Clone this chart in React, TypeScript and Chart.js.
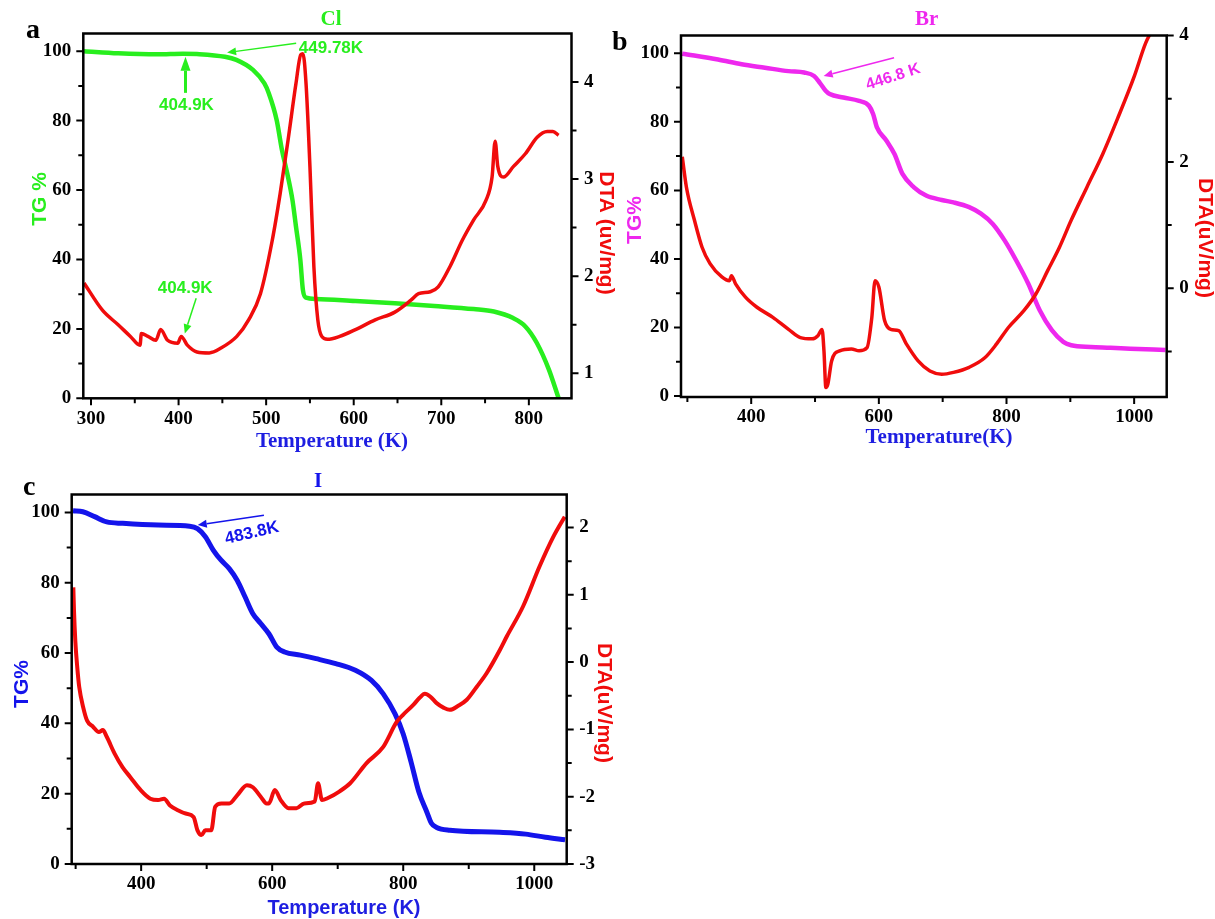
import React, { useEffect, useRef } from 'react';
import { Chart, registerables } from 'chart.js';

Chart.register(...registerables);

const SERIF = '"Liberation Serif", "Times New Roman", serif';
const SANS = '"Liberation Sans", Arial, sans-serif';

const GREEN = 'rgb(40,238,30)';
const MAGENTA = 'rgb(238,40,238)';
const BLUE = 'rgb(20,20,235)';
const RED = 'rgb(240,12,12)';
const AXIS_BLUE = 'rgb(30,30,225)';

// ---------- Panel a : Cl ----------
const clTgTemp = [292, 331, 376, 405, 421, 453, 466, 485, 498, 503, 512, 518, 524, 530, 534, 539, 542, 545.5, 557, 602, 647, 692, 737, 760, 782, 796, 809, 823, 834];
const clTg = [100, 99.4, 99.1, 99.3, 99.2, 98.4, 97.5, 94.6, 90.7, 87.9, 80.2, 71.6, 64.9, 57.2, 49.6, 40, 31.2, 29, 28.6, 28.0, 27.4, 26.6, 25.7, 25, 23.1, 20.7, 16, 8.2, 0];
const clDtaTemp = [292, 313, 331, 345, 356, 357.5, 365, 374, 379.5, 387.5, 399, 403, 410, 421, 435, 448.5, 466.5, 480, 493.5, 507, 516, 525, 534, 539.5, 542, 545.5, 550, 554.5, 559, 563.5, 570, 584, 602, 624.5, 647, 665, 674, 687.5, 696.5, 710, 724, 737, 751, 758, 761.5, 764.5, 771, 782.5, 796, 809.5, 821, 827.5, 834];
const clDta = [1.93, 1.65, 1.50, 1.38, 1.29, 1.41, 1.38, 1.34, 1.45, 1.34, 1.31, 1.38, 1.29, 1.22, 1.21, 1.26, 1.38, 1.55, 1.82, 2.37, 2.85, 3.40, 3.98, 4.28, 4.29, 3.99, 3.13, 2.10, 1.55, 1.38, 1.35, 1.38, 1.45, 1.55, 1.63, 1.75, 1.82, 1.84, 1.89, 2.10, 2.37, 2.58, 2.78, 3.02, 3.39, 3.13, 3.02, 3.13, 3.26, 3.43, 3.49, 3.49, 3.45];
const clXMajor = [300, 400, 500, 600, 700, 800];
const clXMinor = [350, 450, 550, 650, 750];
const clRMajor = [1, 2, 3, 4];
const clRMinor = [1.5, 2.5, 3.5];

// ---------- Panel b : Br ----------
const brTgTemp = [292, 348, 385, 421.5, 458.5, 483, 498.5, 507.5, 517, 523, 544.5, 569, 584.5, 591, 597, 612, 624.5, 637, 655, 674, 698.5, 717, 741.5, 760, 778.5, 797, 815, 834, 852, 871, 889, 901.5, 932, 963, 994, 1049];
const brTg = [99.9, 98.2, 96.8, 95.8, 94.8, 94.4, 93.4, 91.4, 89, 88.1, 87.1, 86.1, 84.7, 82.3, 78.4, 74.5, 70.6, 64.8, 60.9, 58.5, 57.2, 56.5, 55.1, 53.2, 50.2, 45.4, 39.6, 32.8, 25, 19.2, 15.8, 14.8, 14.3, 14.1, 13.8, 13.4];
const brDtaTemp = [292, 298.5, 311, 323, 335.5, 354, 366, 369, 375.5, 391, 409, 434, 458.5, 477, 495.5, 504.5, 511, 514, 517, 520, 526, 538.5, 557, 569, 581.5, 589, 594, 600, 609, 618.5, 631, 643, 661.5, 680, 698.5, 717, 741.5, 766, 784.5, 803, 827.5, 846, 864.5, 883, 901.5, 926, 951, 975, 1000, 1018, 1030];
const brDta = [2.08, 1.60, 1.08, 0.65, 0.39, 0.18, 0.12, 0.20, 0.07, -0.14, -0.30, -0.46, -0.65, -0.78, -0.80, -0.75, -0.65, -0.99, -1.57, -1.52, -1.15, -0.99, -0.96, -0.99, -0.94, -0.46, 0.12, 0.02, -0.51, -0.65, -0.67, -0.88, -1.15, -1.31, -1.36, -1.33, -1.25, -1.10, -0.88, -0.62, -0.35, -0.09, 0.28, 0.65, 1.08, 1.60, 2.13, 2.71, 3.35, 3.88, 4.12];
const brXMajor = [400, 600, 800, 1000];
const brXMinor = [300, 500, 700, 900];
const brRMajor = [0, 2, 4];
const brRMinor = [-1, 1, 3];

// ---------- Panel c : I ----------
const iTgTemp = [296, 311, 329, 347.5, 372, 426, 474, 486, 498, 510, 522, 534.5, 546.5, 558.5, 570.5, 582.5, 595, 607, 619, 643, 667, 697, 727, 751.5, 769.5, 787.5, 800, 812, 824, 836, 843, 851, 871, 947, 987, 1017, 1047];
const iTg = [100.5, 100.2, 98.8, 97.3, 96.9, 96.4, 96.1, 95.4, 93.1, 89.3, 86.4, 84, 80.7, 76, 71.2, 68.4, 65.5, 61.7, 60.3, 59.4, 58.4, 57, 55.1, 52.2, 48.4, 42.7, 37, 29.0, 20.4, 14.8, 11.6, 10.4, 9.6, 9.0, 8.5, 7.6, 6.9];
const iDtaTemp = [296.5, 297.5, 299.5, 302.5, 305.5, 311.5, 317.5, 326.5, 335.5, 341.5, 347.5, 359.5, 371.5, 383.5, 399, 414, 426, 435, 444, 456, 468, 480, 486, 492, 498, 507, 513, 522.5, 534.5, 546.5, 561.5, 570.5, 582.5, 591.5, 595, 604, 613, 625, 637, 649, 665, 670, 676, 685, 703, 719, 744, 769.5, 790, 800, 815, 825, 833, 842, 851, 862, 871, 884, 897, 912, 927, 947.5, 958, 983, 1008, 1029, 1046.5];
const iDta = [1.11, 0.77, 0.32, -0.08, -0.37, -0.67, -0.87, -0.96, -1.04, -1.01, -1.11, -1.36, -1.56, -1.71, -1.90, -2.03, -2.05, -2.03, -2.13, -2.20, -2.25, -2.30, -2.50, -2.57, -2.50, -2.50, -2.15, -2.10, -2.10, -1.98, -1.83, -1.86, -2.00, -2.10, -2.10, -1.90, -2.05, -2.17, -2.17, -2.10, -2.07, -1.80, -2.05, -2.02, -1.92, -1.80, -1.50, -1.26, -0.89, -0.78, -0.64, -0.53, -0.47, -0.52, -0.61, -0.68, -0.71, -0.65, -0.56, -0.37, -0.17, 0.18, 0.38, 0.83, 1.42, 1.86, 2.16];
const iXMajor = [400, 600, 800, 1000];
const iXMinor = [300, 500, 700, 900];
const iRMajor = [-3, -2, -1, 0, 1, 2];
const iRMinor = [-2.5, -1.5, -0.5, 0.5, 1.5];

const tgMajor = [0, 20, 40, 60, 80, 100];
const tgMinor = [10, 30, 50, 70, 90];

type Txt = {
  text: string; x: number; y: number; size: number; family: string; color: string;
  rot?: number; align?: CanvasTextAlign; base?: CanvasTextBaseline; weight?: string; axis?: 'L' | 'R';
};
type Arrow = { x1: number; y1: number; x2: number; y2: number; axis: 'L' | 'R'; color: string; w: number; head: number; hw: number };

type PanelCfg = {
  left: number; top: number; w: number; h: number;
  area: { l: number; t: number; r: number; b: number };
  xMin: number; xMax: number; lMin: number; lMax: number; rMin: number; rMax: number;
  xMajor: number[]; xMinor: number[]; rMajor: number[]; rMinor: number[];
  tgT: number[]; tg: number[]; tgColor: string; tgWidth: number;
  dtaT: number[]; dta: number[]; dtaWidth: number;
  texts: Txt[]; arrows: Arrow[];
};

const zip = (xs: number[], ys: number[]) => xs.map((x, i) => ({ x, y: ys[i] }));

const panels: PanelCfg[] = [
  {
    left: 0, top: 0, w: 640, h: 460,
    area: { l: 83.3, t: 33.5, r: 571.5, b: 398.3 },
    xMin: 291.2, xMax: 848.7, lMin: 0, lMax: 105.1, rMin: 0.743, rMax: 4.498,
    xMajor: clXMajor, xMinor: clXMinor, rMajor: clRMajor, rMinor: clRMinor,
    tgT: clTgTemp, tg: clTg, tgColor: GREEN, tgWidth: 4.5,
    dtaT: clDtaTemp, dta: clDta, dtaWidth: 3.5,
    texts: [
      { text: 'a', x: 26, y: 38, size: 28, family: SERIF, color: '#000', align: 'left', base: 'alphabetic' },
      { text: 'Cl', x: 331, y: 20, size: 21, family: SERIF, color: GREEN },
      { text: 'Temperature (K)', x: 332, y: 442, size: 21, family: SERIF, color: AXIS_BLUE },
      { text: 'TG %', x: 40.5, y: 199, size: 21, family: SANS, color: GREEN, rot: -90 },
      { text: 'DTA (uv/mg)', x: 606, y: 233, size: 21, family: SANS, color: RED, rot: 90 },
      { text: '449.78K', x: 537.3, y: 100.9, axis: 'L', size: 17, family: SANS, color: GREEN, align: 'left' },
      { text: '404.9K', x: 377.7, y: 84.5, axis: 'L', size: 17, family: SANS, color: GREEN, align: 'left' },
      { text: '404.9K', x: 376.3, y: 31.6, axis: 'L', size: 17, family: SANS, color: GREEN, align: 'left' },
    ],
    arrows: [
      { x1: 534.3, y1: 102.3, x2: 455.4, y2: 99.6, axis: 'L', color: GREEN, w: 1.5, head: 9, hw: 4 },
      { x1: 407.9, y1: 88, x2: 407.9, y2: 98.4, axis: 'L', color: GREEN, w: 3, head: 14, hw: 5 },
      { x1: 420.1, y1: 28.8, x2: 407.1, y2: 18.7, axis: 'L', color: GREEN, w: 1.5, head: 9, hw: 4 },
    ],
  },
  {
    left: 600, top: 0, w: 615, h: 460,
    area: { l: 81, t: 35.5, r: 566.7, b: 397 },
    xMin: 290, xMax: 1051, lMin: -0.3, lMax: 105.2, rMin: -1.72, rMax: 4,
    xMajor: brXMajor, xMinor: brXMinor, rMajor: brRMajor, rMinor: brRMinor,
    tgT: brTgTemp, tg: brTg, tgColor: MAGENTA, tgWidth: 4.5,
    dtaT: brDtaTemp, dta: brDta, dtaWidth: 3.5,
    texts: [
      { text: 'b', x: 12, y: 50, size: 28, family: SERIF, color: '#000', align: 'left', base: 'alphabetic' },
      { text: 'Br', x: 326.7, y: 20, size: 21, family: SERIF, color: MAGENTA },
      { text: 'Temperature(K)', x: 339, y: 438, size: 21, family: SERIF, color: AXIS_BLUE },
      { text: 'TG%', x: 35.5, y: 220, size: 21, family: SANS, color: MAGENTA, rot: -90 },
      { text: 'DTA(uV/mg)', x: 605, y: 238, size: 21, family: SANS, color: RED, rot: 90 },
      { text: '446.8 K', x: 622.4, y: 93.1, axis: 'L', size: 16, family: SANS, color: MAGENTA, rot: -18 },
    ],
    arrows: [
      { x1: 623.8, y1: 98.7, x2: 513.5, y2: 93.4, axis: 'L', color: MAGENTA, w: 1.5, head: 9, hw: 4 },
    ],
  },
  {
    left: 0, top: 460, w: 640, h: 459,
    area: { l: 71.7, t: 34.5, r: 566.7, b: 404 },
    xMin: 294, xMax: 1049.5, lMin: 0, lMax: 105.1, rMin: -3, rMax: 2.49,
    xMajor: iXMajor, xMinor: iXMinor, rMajor: iRMajor, rMinor: iRMinor,
    tgT: iTgTemp, tg: iTg, tgColor: BLUE, tgWidth: 5,
    dtaT: iDtaTemp, dta: iDta, dtaWidth: 4,
    texts: [
      { text: 'c', x: 23, y: 35, size: 28, family: SERIF, color: '#000', align: 'left', base: 'alphabetic' },
      { text: 'I', x: 318, y: 21.7, size: 21, family: SERIF, color: BLUE },
      { text: 'Temperature (K)', x: 344, y: 448, size: 20, family: SANS, color: AXIS_BLUE },
      { text: 'TG%', x: 22.7, y: 224, size: 21, family: SANS, color: BLUE, rot: -90 },
      { text: 'DTA(uV/mg)', x: 604, y: 243, size: 21, family: SANS, color: RED, rot: 90 },
      { text: '483.8K', x: 569.2, y: 94.1, axis: 'L', size: 17, family: SANS, color: BLUE, rot: -13 },
    ],
    arrows: [
      { x1: 587.4, y1: 99.2, x2: 486.4, y2: 96.4, axis: 'L', color: BLUE, w: 1.5, head: 9, hw: 4 },
    ],
  },
];

const tickFont = { family: SERIF, size: 19, weight: 'bold' as const };

function makeDecor(cfg: PanelCfg) {
  return {
    id: 'decor',
    afterDatasetsDraw(chart: any) {
      const ctx: CanvasRenderingContext2D = chart.ctx;
      const { left, top, right, bottom } = chart.chartArea;
      const xs = chart.scales.x, yl = chart.scales.yL, yr = chart.scales.yR;
      ctx.save();
      ctx.strokeStyle = '#000';
      ctx.lineWidth = 2;
      ctx.beginPath();
      const tick = (x1: number, y1: number, x2: number, y2: number) => { ctx.moveTo(x1, y1); ctx.lineTo(x2, y2); };
      cfg.xMajor.forEach(v => { const p = xs.getPixelForValue(v); tick(p, bottom, p, bottom + 7); });
      cfg.xMinor.forEach(v => { const p = xs.getPixelForValue(v); tick(p, bottom, p, bottom + 5); });
      tgMajor.forEach(v => { const p = yl.getPixelForValue(v); tick(left - 7, p, left, p); });
      tgMinor.forEach(v => { const p = yl.getPixelForValue(v); tick(left - 5, p, left, p); });
      cfg.rMajor.forEach(v => { const p = yr.getPixelForValue(v); tick(right, p, right + 7, p); });
      cfg.rMinor.forEach(v => { const p = yr.getPixelForValue(v); tick(right, p, right + 5, p); });
      ctx.stroke();
      ctx.lineWidth = 2.5;
      ctx.strokeRect(left, top, right - left, bottom - top);
      ctx.restore();
    },
    afterDraw(chart: any) {
      const ctx: CanvasRenderingContext2D = chart.ctx;
      const xs = chart.scales.x, yl = chart.scales.yL, yr = chart.scales.yR;
      const toPx = (x: number, y: number, axis?: 'L' | 'R') => {
        if (!axis) return [x, y];
        const ys = axis === 'L' ? yl : yr;
        return [xs.getPixelForValue(x), ys.getPixelForValue(y)];
      };
      ctx.save();
      cfg.arrows.forEach(a => {
        const [x1, y1] = toPx(a.x1, a.y1, a.axis);
        const [x2, y2] = toPx(a.x2, a.y2, a.axis);
        const ang = Math.atan2(y2 - y1, x2 - x1);
        const bx = x2 - Math.cos(ang) * a.head, by = y2 - Math.sin(ang) * a.head;
        ctx.strokeStyle = a.color;
        ctx.fillStyle = a.color;
        ctx.lineWidth = a.w;
        ctx.beginPath();
        ctx.moveTo(x1, y1);
        ctx.lineTo(bx, by);
        ctx.stroke();
        ctx.beginPath();
        ctx.moveTo(x2, y2);
        ctx.lineTo(bx + Math.sin(ang) * a.hw, by - Math.cos(ang) * a.hw);
        ctx.lineTo(bx - Math.sin(ang) * a.hw, by + Math.cos(ang) * a.hw);
        ctx.closePath();
        ctx.fill();
      });
      cfg.texts.forEach(t => {
        const [x, y] = toPx(t.x, t.y, t.axis);
        ctx.save();
        ctx.translate(x, y);
        if (t.rot) ctx.rotate((t.rot * Math.PI) / 180);
        ctx.font = `${t.weight || 'bold'} ${t.size}px ${t.family}`;
        ctx.fillStyle = t.color;
        ctx.textAlign = t.align || 'center';
        ctx.textBaseline = t.base || 'middle';
        ctx.fillText(t.text, 0, 0);
        ctx.restore();
      });
      ctx.restore();
    },
  };
}

function Panel({ cfg }: { cfg: PanelCfg }) {
  const ref = useRef<HTMLCanvasElement>(null);
  useEffect(() => {
    const canvas = ref.current;
    if (!canvas) return;
    const { area, w, h } = cfg;
    const chart = new Chart(canvas, {
      type: 'line',
      data: {
        datasets: [
          {
            label: 'DTA', data: zip(cfg.dtaT, cfg.dta), yAxisID: 'yR', xAxisID: 'x',
            borderColor: RED, borderWidth: cfg.dtaWidth, pointRadius: 0, fill: false,
            cubicInterpolationMode: 'monotone',
          },
          {
            label: 'TG', data: zip(cfg.tgT, cfg.tg), yAxisID: 'yL', xAxisID: 'x',
            borderColor: cfg.tgColor, borderWidth: cfg.tgWidth, pointRadius: 0, fill: false,
            cubicInterpolationMode: 'monotone',
          },
        ],
      },
      options: {
        responsive: false,
        devicePixelRatio: 1,
        animation: false,
        events: [],
        layout: { padding: { left: 0, top: area.t, right: 0, bottom: 0 } },
        plugins: { legend: { display: false }, tooltip: { enabled: false }, title: { display: false } },
        scales: {
          x: {
            type: 'linear', position: 'bottom', min: cfg.xMin, max: cfg.xMax,
            grid: { display: false, drawTicks: false }, border: { display: false },
            ticks: { font: tickFont, color: '#000', padding: 9, autoSkip: false, maxRotation: 0, minRotation: 0, callback: (v: any) => String(v) },
            afterBuildTicks: (s: any) => { s.ticks = cfg.xMajor.map(v => ({ value: v })); },
            afterFit: (s: any) => { s.height = h - area.b; },
          },
          yL: {
            type: 'linear', position: 'left', min: cfg.lMin, max: cfg.lMax,
            grid: { display: false, drawTicks: false }, border: { display: false },
            ticks: { font: tickFont, color: '#000', padding: 12, autoSkip: false, callback: (v: any) => String(v) },
            afterBuildTicks: (s: any) => { s.ticks = tgMajor.map(v => ({ value: v })); },
            afterFit: (s: any) => { s.width = area.l; },
          },
          yR: {
            type: 'linear', position: 'right', min: cfg.rMin, max: cfg.rMax,
            grid: { display: false, drawTicks: false }, border: { display: false },
            ticks: { font: tickFont, color: '#000', padding: 12.5, autoSkip: false, callback: (v: any) => String(v) },
            afterBuildTicks: (s: any) => { s.ticks = cfg.rMajor.map(v => ({ value: v })); },
            afterFit: (s: any) => { s.width = w - area.r; },
          },
        },
      } as any,
      plugins: [makeDecor(cfg)],
    });
    return () => chart.destroy();
  }, [cfg]);
  return (
    <canvas
      ref={ref}
      width={cfg.w}
      height={cfg.h}
      style={{ position: 'absolute', left: cfg.left, top: cfg.top, width: cfg.w, height: cfg.h, display: 'block' }}
    />
  );
}

export default function App() {
  return (
    <div style={{ position: 'absolute', left: 0, top: 0, width: 1215, height: 919, background: '#fff', overflow: 'hidden' }}>
      {panels.map((p, i) => (
        <Panel key={i} cfg={p} />
      ))}
    </div>
  );
}
